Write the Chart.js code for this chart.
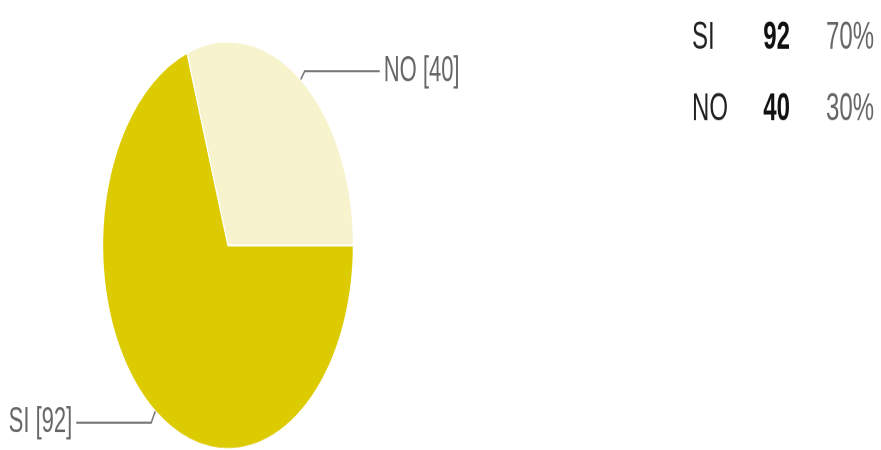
<!DOCTYPE html>
<html>
<head>
<meta charset="utf-8">
<script src="https://cdn.jsdelivr.net/npm/chart.js@4/dist/chart.umd.min.js"></script>
<style>
  html, body { margin: 0; padding: 0; background: #fff; }
  #chart { display: block; }
</style>
</head>
<body>
<!-- the reference is stretched vertically, so the canvas is drawn short and shown tall -->
<canvas id="chart" width="881" height="277" style="width:881px;height:450px"></canvas>
<script>
// Chart data
const categories = ['SI', 'NO'];
const answers = [92, 40];
const sliceColors = ['#dccb00', '#f7f3cd'];

const total = answers.reduce((a, b) => a + b, 0);
const percents = answers.map(v => Math.round(v / total * 100) + '%');

const FONT = '"Liberation Sans", Arial, sans-serif';

// leader lines + "label [value]" next to each slice
const sliceLabels = {
  id: 'sliceLabels',
  afterDatasetsDraw(chart) {
    const ctx = chart.ctx;
    const arcs = chart.getDatasetMeta(0).data;
    ctx.save();
    ctx.strokeStyle = '#777';
    ctx.lineWidth = 1.4;
    ctx.fillStyle = '#666';
    ctx.font = '22px ' + FONT;
    ctx.textBaseline = 'middle';
    arcs.forEach((arc, i) => {
      const { x, y, startAngle, endAngle, outerRadius } = arc.getProps(['x', 'y', 'startAngle', 'endAngle', 'outerRadius'], true);
      const mid = (startAngle + endAngle) / 2;
      const px = x + Math.cos(mid) * outerRadius;
      const py = y + Math.sin(mid) * outerRadius;
      const right = Math.cos(mid) >= 0;
      const kx = right ? px + 4 : px - 4;
      const ky = right ? py - 5 : py + 7;
      const ex = right ? kx + 75 : kx - 75;
      ctx.beginPath();
      ctx.moveTo(px, py);
      ctx.lineTo(kx, ky);
      ctx.lineTo(ex, ky);
      ctx.stroke();
      ctx.textAlign = right ? 'left' : 'right';
      ctx.fillText(categories[i] + ' [' + answers[i] + ']', right ? ex + 4 : ex - 4, ky);
    });
    ctx.restore();
  }
};

// summary table at the top right
const summaryTable = {
  id: 'summaryTable',
  afterDraw(chart) {
    const ctx = chart.ctx;
    ctx.save();
    ctx.textBaseline = 'alphabetic';
    categories.forEach((cat, i) => {
      const base = 30 + i * 44;
      ctx.font = '24px ' + FONT;
      ctx.fillStyle = '#222';
      ctx.textAlign = 'left';
      ctx.fillText(cat, 692, base);
      ctx.font = 'bold 24px ' + FONT;
      ctx.fillStyle = '#111';
      ctx.textAlign = 'right';
      ctx.fillText(String(answers[i]), 790, base);
      ctx.font = '24px ' + FONT;
      ctx.fillStyle = '#666';
      ctx.textAlign = 'left';
      ctx.fillText(percents[i], 826, base);
    });
    ctx.restore();
  }
};

new Chart(document.getElementById('chart'), {
  type: 'pie',
  data: {
    labels: categories,
    datasets: [{
      data: answers,
      backgroundColor: sliceColors,
      borderColor: '#ffffff',
      borderWidth: 1.2
    }]
  },
  options: {
    responsive: false,
    devicePixelRatio: 2,
    animation: false,
    rotation: 90,
    layout: { padding: { left: 102, right: 527, top: 25, bottom: 0 } },
    plugins: {
      legend: { display: false },
      tooltip: { enabled: false }
    }
  },
  plugins: [sliceLabels, summaryTable]
});
</script>
</body>
</html>
